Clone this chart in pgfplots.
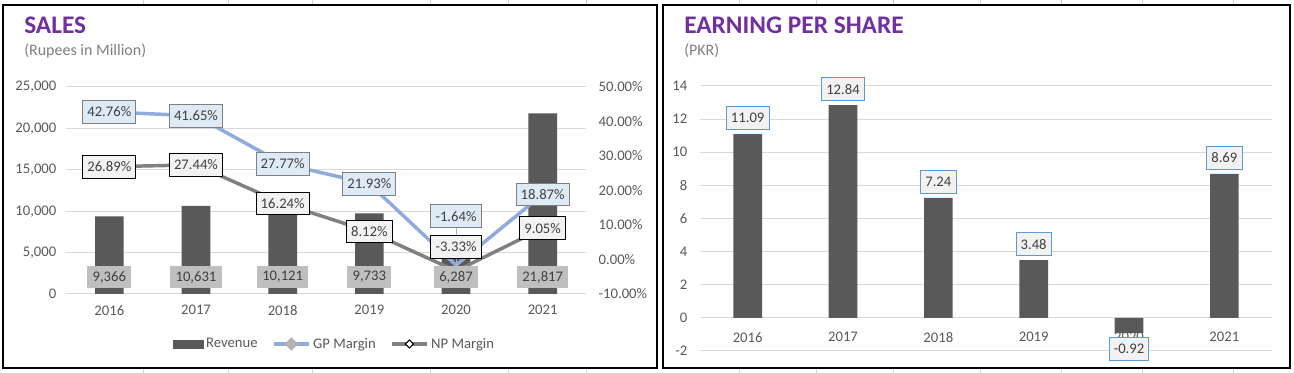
\documentclass[border=0pt]{standalone}
\usepackage{pgfplots}
\usepackage{pgfplotstable}
\pgfplotsset{compat=1.18}
\usepackage{fontspec}
\setmainfont{Carlito}
\definecolor{barc}{HTML}{595959}
\definecolor{gridc}{HTML}{D9D9D9}
\definecolor{tickc}{HTML}{595959}
\definecolor{titlec}{HTML}{7030A0}
\definecolor{subc}{HTML}{7F7F7F}
\definecolor{gpc}{HTML}{8FAADC}
\definecolor{npc}{HTML}{808080}
\definecolor{gpfill}{HTML}{DEEBF7}
\definecolor{gpborder}{HTML}{7F7F7F}
\definecolor{npfill}{HTML}{F2F2F2}
\definecolor{revfill}{HTML}{BFBFBF}
\definecolor{lblc}{HTML}{404040}
\definecolor{epsborder}{HTML}{5B9BD5}
\definecolor{epsfill}{HTML}{F2F2F2}
\definecolor{cellc}{HTML}{D4D4D4}

\pgfplotstableread{
x rev gp gpdy np npdy
0 9366 42.76 0 26.89 0
1 10631 41.65 0 27.44 0
2 10121 27.77 0 16.24 0
3 9733 21.93 0 8.12 0
4 6287 -1.64 36.75 -3.33 18
5 21817 18.87 0 9.05 0
}\salestable

\pgfplotstableread{
x eps
0 11.09
1 12.84
2 7.24
3 3.48
4 -0.92
5 8.69
}\epstable

\tikzset{lbl/.style={font=\fontsize{11}{13}\selectfont, text=lblc, inner xsep=3.5pt, inner ysep=0pt, minimum height=17pt, line width=0.75pt}}

\pgfplotsset{
  /pgf/number format/assume math mode=true,
  base/.style={
    scale only axis,
    anchor=south west,
    xmin=-0.5, xmax=5.5,
    xtick={0,...,5},
    xticklabels={2016,2017,2018,2019,2020,2021},
    axis line style={draw=none},
    major tick length=0pt,
    tick label style={font=\fontsize{11}{13}\selectfont, text=tickc},
    grid style={gridc, line width=0.75pt},
    clip=false,
  },
  revleg/.style={legend image code/.code={\fill[barc] (0pt,-3pt) rectangle (22.5pt,3pt);}},
  gpleg/.style={legend image code/.code={\draw[##1] (0pt,0pt) -- (26pt,0pt); \fill[gray!60] (13pt,3.2pt) -- (16.2pt,0pt) -- (13pt,-3.2pt) -- (9.8pt,0pt) -- cycle;}},
  npleg/.style={legend image code/.code={\draw[##1] (0pt,0pt) -- (26pt,0pt); \filldraw[fill=white, draw=black, line width=0.8pt] (13pt,3pt) -- (16pt,0pt) -- (13pt,-3pt) -- (10pt,0pt) -- cycle;}},
}

\begin{document}
\begin{tikzpicture}
\path[use as bounding box] (0,0) rectangle (970.5pt,-279.75pt);
\fill[white] (0,0) rectangle (970.5pt,-279.75pt);
% faint spreadsheet cell lines peeking around the charts
\foreach \cx in {107.25,171,234,322.5,381,439.5,554.25,612,669.75,735,795.75,856.5,924.75}{
  \draw[cellc, line width=0.75pt] (\cx pt,0pt) -- (\cx pt,-279.75pt);
}

% ---------------- SALES (left axis: revenue) ----------------
\fill[white] (2.25pt,-3.75pt) rectangle (492.75pt,-276pt);
\fill[white] (497.25pt,-3.75pt) rectangle (967.5pt,-276pt);
\begin{axis}[base,
  at={(49.5pt,-220.5pt)}, width=390pt, height=155.25pt,
  ymin=0, ymax=25000, ytick={0,5000,...,25000},
  scaled y ticks=false,
  ymajorgrids,
  yticklabel style={xshift=-3.75pt, /pgf/number format/.cd, 1000 sep={,}},
  xticklabel style={yshift=-5pt},
]
\addplot[ybar, bar width=21.5pt, fill=barc, draw=none] table[x=x, y=rev]{\salestable};
\end{axis}

% ---------------- SALES (right axis: margins) ----------------
\begin{axis}[base,
  at={(49.5pt,-220.5pt)}, width=390pt, height=155.25pt,
  ymin=-10, ymax=50, ytick={-10,0,...,50},
  yticklabel pos=right,
  yticklabel={\pgfmathprintnumber[fixed,fixed zerofill,precision=2]{\tick}\%},
  yticklabel style={anchor=west, xshift=6pt},
  xtick=\empty,
  legend style={at={(0.517,-0.2415)}, anchor=center, draw=none, fill=none,
    font=\fontsize{11}{13}\selectfont, text=tickc, legend columns=3,
    /tikz/every even column/.append style={column sep=9pt},
    /tikz/every odd column/.append style={column sep=0pt}},
  legend cell align=left,
]
\addlegendimage{revleg}
\addlegendentry{Revenue}
\addplot[gpc, line width=2.6pt, mark=none, gpleg]
  table[x=x, y=gp]{\salestable};
\addlegendentry{GP Margin}
\addplot[npc, line width=2.6pt, mark=none, npleg]
  table[x=x, y=np]{\salestable};
\addlegendentry{NP Margin}

% leader lines for moved 2020 labels
\draw[gray!60, line width=0.5pt] ([yshift=28pt]axis cs:4,-1.64) -- ([yshift=2pt]axis cs:4,-1.64);
\draw[gray!60, line width=0.5pt] ([yshift=9pt]axis cs:4,-3.33) -- ([yshift=2pt]axis cs:4,-3.33);

% revenue labels (inside base)
\addplot[draw=none, mark=none, forget plot, point meta=explicit,
  nodes near coords={\pgfmathprintnumber[1000 sep={,}]{\pgfplotspointmeta}},
  every node near coord/.append style={lbl, anchor=center, fill=revfill, inner xsep=4pt}]
  table[x=x, y expr=-5.07, meta=rev]{\salestable};

% GP labels
\addplot[draw=none, mark=none, forget plot, point meta=explicit,
  visualization depends on={\thisrow{gpdy} \as \dy},
  nodes near coords={\pgfmathprintnumber[fixed,fixed zerofill,precision=2]{\pgfplotspointmeta}\%},
  every node near coord/.append style={lbl, anchor=center, fill=gpfill, draw=gpborder, yshift=\dy pt}]
  table[x=x, y=gp, meta=gp]{\salestable};

% NP labels
\addplot[draw=none, mark=none, forget plot, point meta=explicit,
  visualization depends on={\thisrow{npdy} \as \dy},
  nodes near coords={\pgfmathprintnumber[fixed,fixed zerofill,precision=2]{\pgfplotspointmeta}\%},
  every node near coord/.append style={lbl, anchor=center, fill=npfill, draw=black, yshift=\dy pt}]
  table[x=x, y=np, meta=np]{\salestable};
\end{axis}

% ---------------- EPS ----------------
\begin{axis}[base,
  at={(525pt,-263.25pt)}, width=429pt, height=198.75pt,
  ymin=-2, ymax=14, ytick={-2,0,...,14},
  ymajorgrids,
  yticklabel style={xshift=-6pt},
  xticklabel style={yshift=17.5pt},
]
\addplot[ybar, bar width=21.5pt, fill=barc, draw=none,
  nodes near coords={\pgfmathprintnumber[fixed,fixed zerofill,precision=2]{\pgfplotspointmeta}},
  every node near coord/.append style={lbl, fill=epsfill, draw=epsborder, outer sep=3.5pt}]
  table[x=x, y=eps]{\epstable};
\end{axis}

% ---------------- titles ----------------
\node[anchor=base west, inner sep=0pt, font=\fontsize{19}{22}\selectfont\bfseries, text=titlec] at (18pt,-25.5pt) {SALES};
\node[anchor=base west, inner sep=0pt, font=\fontsize{12}{14}\selectfont, text=subc] at (18pt,-41.5pt) {(Rupees in Million)};
\node[anchor=base west, inner sep=0pt, font=\fontsize{19}{22}\selectfont\bfseries, text=titlec] at (513pt,-25.5pt) {EARNING PER SHARE};
\node[anchor=base west, inner sep=0pt, font=\fontsize{12}{14}\selectfont, text=subc] at (513pt,-41.5pt) {(PKR)};

% ---------------- frames ----------------
\draw[black, line width=1.2pt] (2.25pt,-3.75pt) rectangle (492.75pt,-276pt);
\draw[black, line width=1.2pt] (497.25pt,-3.75pt) rectangle (967.5pt,-276pt);
\end{tikzpicture}
\end{document}
